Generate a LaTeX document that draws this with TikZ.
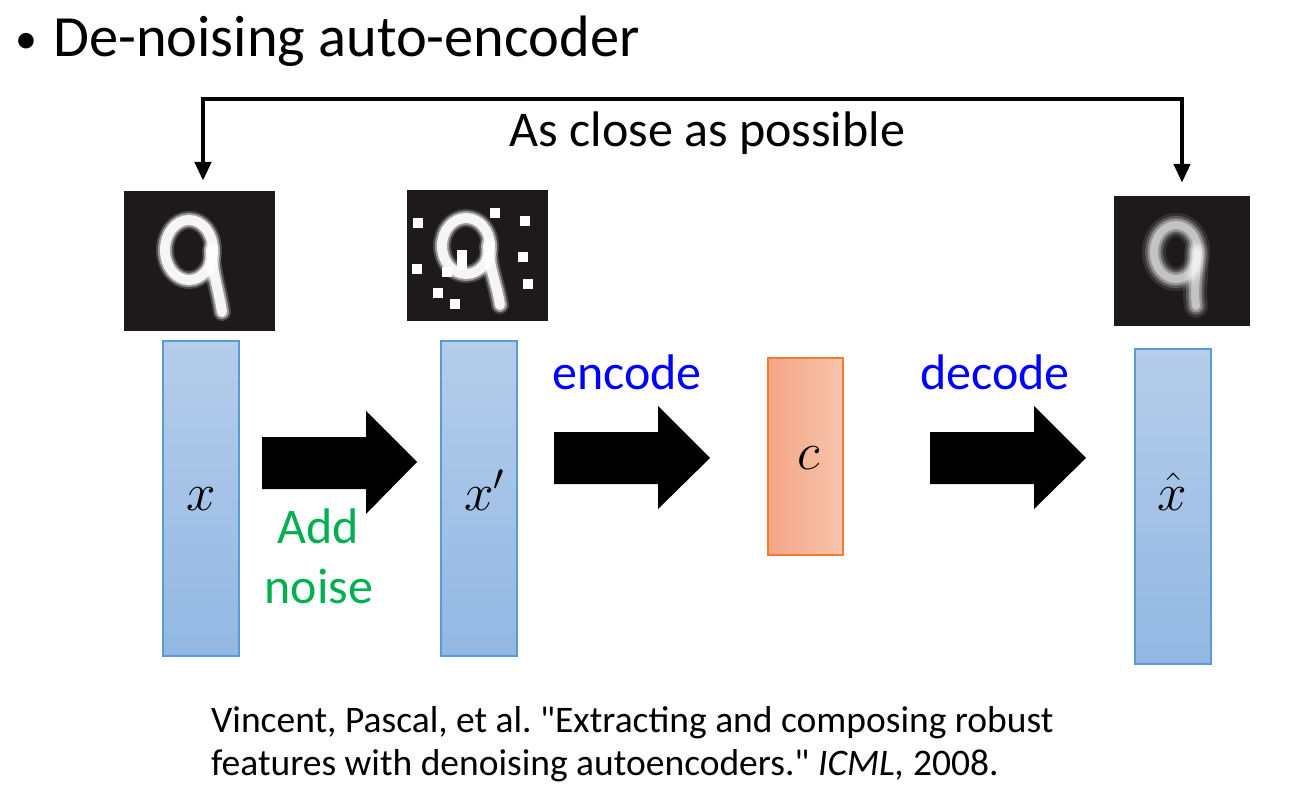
\documentclass[tikz,border=0pt]{standalone}
\usepackage{fix-cm}
\usepackage{fontspec}
\setmainfont{Carlito}[Ligatures=TeXOff]
\usetikzlibrary{arrows.meta}
\definecolor{vecfillT}{RGB}{181,205,234}
\definecolor{vecfillB}{RGB}{146,184,227}
\definecolor{vecline}{RGB}{91,155,213}
\definecolor{cfillL}{RGB}{244,166,132}
\definecolor{cfillR}{RGB}{247,196,173}
\definecolor{cline}{RGB}{237,125,49}
\definecolor{imgbg}{RGB}{30,26,27}
\definecolor{noisegreen}{RGB}{0,176,80}
\definecolor{codeblue}{RGB}{0,0,255}
\newcommand\drawnine[9]{%
  \foreach \w/\o in {#8}{%
    \draw[line width=\w pt, draw=#9, opacity=\o, line cap=round]
      (#1,#2) ellipse [x radius=#3, y radius=#4];
    \draw[line width=\w pt, draw=#9, opacity=\o, line cap=round]
      (#1+#3-2,#2) .. controls (#1+#3,#2+25) and (#5-3,#6-20) .. (#5,#6);
  }%
}
\frenchspacing
\begin{document}
\begin{tikzpicture}[x=1pt,y=-1pt,
  txt/.style={inner sep=0pt},
  titlef/.style={font=\fontsize{58.4}{70}\selectfont},
  bulletf/.style={font=\fontsize{44}{52}\selectfont},
  lblf/.style={font=\fontsize{50}{60}\selectfont},
  citef/.style={font=\fontsize{37.5}{45}\selectfont},
  mathf/.style={inner sep=0pt, font=\fontsize{53}{62}\selectfont},
  vec/.style={draw=vecline, line width=2pt, top color=vecfillT, bottom color=vecfillB,
    inner sep=0pt, minimum width=76pt, minimum height=315pt},
  codebox/.style={draw=cline, line width=2pt, left color=cfillL, right color=cfillR,
    inner sep=0pt, minimum width=75pt, minimum height=197pt},
  digitimg/.style={fill=imgbg, inner sep=0pt},
  blockarrow/.style={fill=black},
  bracket/.style={line width=4.5pt, draw=black,
    {Triangle[width=16pt,length=19pt]}-{Triangle[width=16pt,length=19pt]}}
]
\useasboundingbox (0,0) rectangle (1294,797);

% title
\node[txt, bulletf, anchor=base] (bullet) at (26,54) {•};
\node[txt, titlef, anchor=base west] (title) at (53,57) {De-noising auto-encoder};

% images
\node[digitimg, minimum width=151pt, minimum height=140pt] (img1) at (199.5,261) {};
\node[digitimg, minimum width=141pt, minimum height=131pt] (img2) at (477.5,255.5) {};
\node[digitimg, minimum width=136pt, minimum height=130pt] (img3) at (1182,261) {};

\drawnine{189}{250}{24}{30}{222}{312}{}{18/0.2,14/0.45,10/0.9}{white}
\drawnine{466}{246}{24}{28}{500}{305}{}{18/0.2,14/0.45,10/0.9}{white}
\drawnine{1176}{252}{22}{27}{1196}{306}{}{24/0.1,18/0.2,13/0.35,8/0.45}{white}

\foreach \a/\b in {418/223,495/213,525/221,462/255,523/257,417/269,447/272,462/265,528/284,438/293,455/304}
  \fill[white] (\a-5,\b-5) rectangle (\a+5,\b+5);

% bracket
\coordinate (ltip) at ([xshift=3.5pt,yshift=10pt]img1.north);
\coordinate (rtip) at ([yshift=13pt]img3.north);
\draw[bracket] (ltip) -- (203,99) -- (1182,99) -- (rtip);
\node[txt, lblf, anchor=base] (close) at (707.5,147) {As close as possible};

% vectors
\node[vec] (vx) at (201,498.5) {};
\node[vec] (vxp) at (478.5,498.5) {};
\node[codebox] (vc) at (805.5,456.5) {};
\node[vec] (vxh) at (1172.5,506.5) {};

\node[mathf, anchor=base] (lx) at ([yshift=-11.5pt]vx.center) {$x$};
\node[mathf, anchor=base] (lxp) at ([xshift=6pt,yshift=-11.5pt]vxp.center) {$x'$};
\node[mathf] (lc) at ([xshift=3pt,yshift=-2pt]vc.center) {$c$};
\node[mathf, anchor=base] (lxh) at ([yshift=-3.5pt]vxh.center) {$\hat{x}$};

% block arrows
\fill[blockarrow] (262,437) -- (366,437) -- (366,411) -- (417,462) -- (366,514) -- (366,489) -- (262,489) -- cycle;
\fill[blockarrow] (554,432) -- (658,432) -- (658,406) -- (710,458) -- (658,509) -- (658,484) -- (554,484) -- cycle;
\fill[blockarrow] (930,432) -- (1034,432) -- (1034,406) -- (1086,458) -- (1034,509) -- (1034,484) -- (930,484) -- cycle;

% arrow labels
\node[txt, lblf, text=codeblue, anchor=base] (enc) at (627,389) {encode};
\node[txt, lblf, text=codeblue, anchor=base] (dec) at (995,389) {decode};
\node[txt, lblf, text=noisegreen, anchor=base] (add) at (318,543) {Add};
\node[txt, lblf, text=noisegreen, anchor=base] (noise) at (319,603) {noise};

% citation
\node[txt, citef, anchor=base west] (cite1) at (211,732) {Vincent, Pascal, et al. "Extracting and composing robust};
\node[txt, citef, anchor=base west] (cite2) at (211,775) {features with denoising autoencoders." \textit{ICML,} 2008.};
\end{tikzpicture}
\end{document}
